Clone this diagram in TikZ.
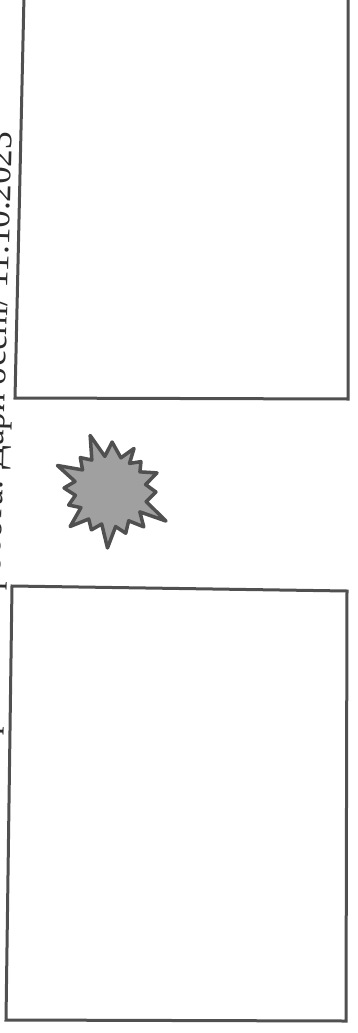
\documentclass[tikz,border=0pt]{standalone}
\usepackage{fontspec}
\setmainfont{Liberation Serif}
\usetikzlibrary{calc}
\definecolor{mygray}{RGB}{80,80,80}
\definecolor{myfill}{RGB}{160,160,160}
\definecolor{myink}{RGB}{45,45,45}
\tikzset{
  sheet/.style={draw=mygray, line width=3pt, line join=miter},
  burst/.style={draw=mygray, fill=myfill, line width=3.5pt, line join=round},
  header/.style={rotate=88.5, anchor=base east, text=myink,
    font=\fontsize{35}{40}\selectfont, inner sep=0pt}
}
\begin{document}
\begin{tikzpicture}[x=1pt, y=-1pt]
  \clip (0,0) rectangle (358,1033);
  \fill[white] (0,0) rectangle (358,1033);

  % Header written along the left edge, mostly cut off
  \node[header] (title) at (12,132) {Практична робота. Дари осені/ 11.10.2023};

  % Upper frame
  \coordinate (A1) at (24,-4);
  \coordinate (A2) at (348,-4);
  \coordinate (A3) at (348,399);
  \coordinate (A4) at (15,398);
  \draw[sheet] (A1) -- (A2) -- (A3) -- (A4) -- cycle;

  % Lower frame
  \coordinate (B1) at (12,586);
  \coordinate (B2) at (347,591);
  \coordinate (B3) at (346,1021);
  \coordinate (B4) at (6,1020);
  \draw[sheet] (B1) -- (B2) -- (B3) -- (B4) -- cycle;

  % Starburst between the frames
  \coordinate (spark) at (110,490);
  \draw[burst] ($(spark)+(-110:58)$)
    \foreach \a/\r/\q in {110/58/35, 132.5/44/34, 155/58/36, 177.5/46/35,
      200/44/34, 222.5/54/36, 245/44/35, 267.5/58/37, 290/46/36,
      312.5/50/37, 331/64/38, 357.5/46/36, 20/50/35, 42.5/42/33,
      60/48/34, 87.5/48/34}
    { -- ($(spark)+({-\a}:\r)$) -- ($(spark)+({-\a-11.25}:\q)$) } -- cycle;
\end{tikzpicture}
\end{document}
